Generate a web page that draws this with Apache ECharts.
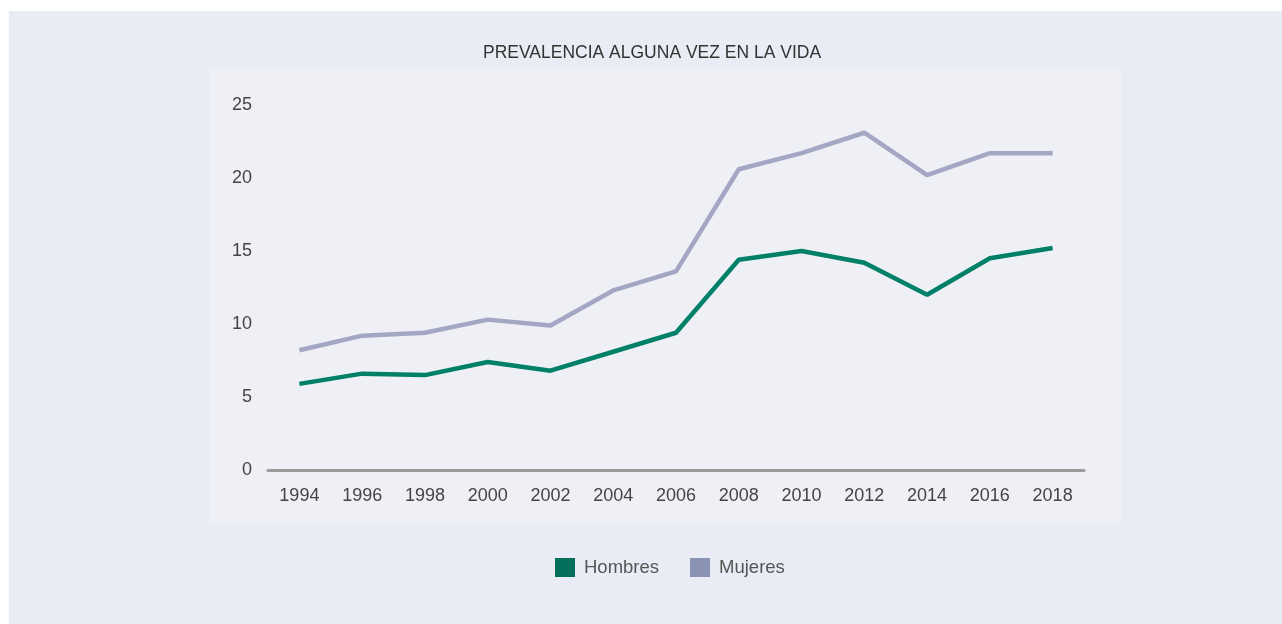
<!DOCTYPE html>
<html>
<head>
<meta charset="utf-8">
<script src="https://cdn.jsdelivr.net/npm/echarts@6/dist/echarts.min.js"></script>
<style>
  html, body { margin: 0; padding: 0; background: #fff; }
  #chart { width: 1282px; height: 624px; }
</style>
</head>
<body>
<div id="chart"></div>
<script>
// data
const years = ['1994', '1996', '1998', '2000', '2002', '2004', '2006', '2008', '2010', '2012', '2014', '2016', '2018'];
const hombres = [5.9, 6.6, 6.5, 7.4, 6.8, 8.1, 9.4, 14.4, 15.0, 14.2, 12.0, 14.5, 15.2];
const mujeres = [8.2, 9.2, 9.4, 10.3, 9.9, 12.3, 13.6, 20.6, 21.7, 23.1, 20.2, 21.7, 21.7];

const fontFam = '"Liberation Sans", Arial, Helvetica, sans-serif';

var myChart = echarts.init(document.getElementById('chart'));
var option = {
  animation: false,
  backgroundColor: '#ffffff',
  graphic: [
    { type: 'rect', z: -10, shape: { x: 9, y: 11, width: 1273, height: 613 }, style: { fill: '#e9ecf4' } },
    { type: 'rect', z: -9, shape: { x: 209, y: 68, width: 912, height: 457 }, style: { fill: '#eef0f5' } }
  ],
  title: {
    text: 'PREVALENCIA ALGUNA VEZ EN LA VIDA',
    left: 483,
    top: 44,
    padding: 0,
    textStyle: { fontFamily: fontFam, fontSize: 17.5, fontWeight: 'normal', color: '#333' }
  },
  legend: {
    top: 553,
    left: 550,
    itemWidth: 20,
    itemHeight: 19,
    itemGap: 31,
    textStyle: { fontFamily: fontFam, fontSize: 18.5, color: '#555', padding: [0, 0, 0, 4] },
    data: [
      { name: 'Hombres', icon: 'rect', itemStyle: { color: '#00705a' } },
      { name: 'Mujeres', icon: 'rect', itemStyle: { color: '#8a93b3' } }
    ]
  },
  grid: { left: 268, right: 198, top: 105, bottom: 154 },
  xAxis: {
    type: 'category',
    data: years,
    boundaryGap: true,
    axisLine: { lineStyle: { color: '#9a9a9a', width: 3 } },
    axisTick: { show: false },
    axisLabel: { margin: 17, fontFamily: fontFam, fontSize: 18, color: '#444' }
  },
  yAxis: {
    type: 'value',
    min: 0,
    max: 25,
    interval: 5,
    splitLine: { show: false },
    axisLine: { show: false },
    axisTick: { show: false },
    axisLabel: { margin: 16, fontFamily: fontFam, fontSize: 18, color: '#444' }
  },
  series: [
    {
      name: 'Hombres',
      type: 'line',
      data: hombres,
      showSymbol: false,
      lineStyle: { color: '#008069', width: 4.5 },
      itemStyle: { color: '#00705a' }
    },
    {
      name: 'Mujeres',
      type: 'line',
      data: mujeres,
      showSymbol: false,
      lineStyle: { color: '#a3a7c3', width: 4.5 },
      itemStyle: { color: '#8a93b3' }
    }
  ]
};
myChart.setOption(option);
</script>
</body>
</html>
